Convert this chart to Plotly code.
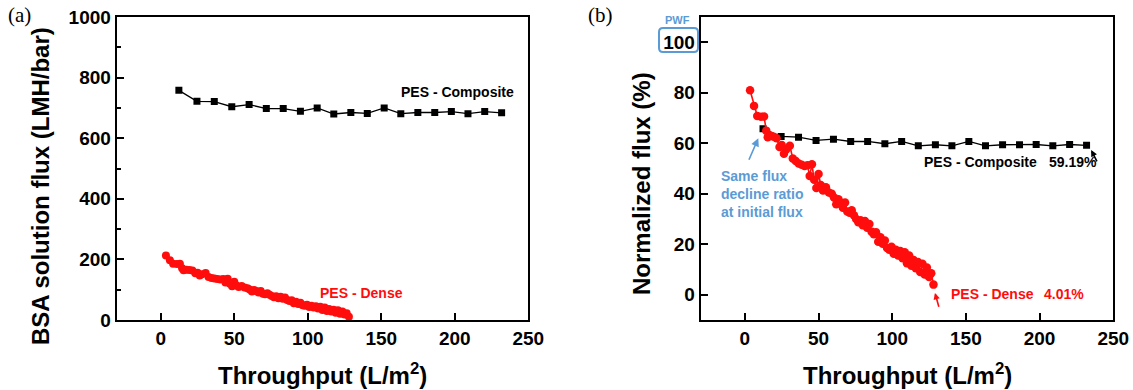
import plotly.graph_objects as go

# ---------------- data ----------------
throughput_comp = [12.3, 24.6, 36.4, 48.3, 60.1, 71.8, 83.3, 95.0, 106.4, 117.7,
                   129.3, 140.5, 152.0, 163.3, 174.9, 186.4, 197.7, 209.0, 220.4, 231.9]
flux_comp = [758, 722, 721, 704, 711, 698, 698, 689, 700, 680,
             685, 682, 700, 681, 685, 685, 688, 681, 688, 684]
norm_comp = [65.7, 62.7, 62.4, 61.1, 61.6, 60.7, 60.7, 59.8, 60.7, 59.0,
             59.4, 59.0, 60.7, 59.0, 59.4, 59.4, 59.5, 59.0, 59.5, 59.19]

throughput_dense = [3.5, 6.2, 8.4, 11.0, 13.0, 14.5, 15.5, 17.5, 19.5, 21.5,
                    23.5, 25.0, 26.5, 28.0, 30.5, 32.5, 34.5, 36.5, 38.5, 40.5,
                    42.5, 44.0, 45.5, 47.0, 48.5, 50.0, 51.5, 53.0, 55.0, 57.0,
                    59.0, 60.5, 62.0, 63.5, 65.0, 66.5, 68.0, 69.5, 71.0, 72.5,
                    74.0, 75.5, 77.0, 78.5, 80.0, 81.5, 83.0, 84.5, 86.0, 87.5,
                    89.0, 90.5, 92.0, 93.5, 95.0, 96.5, 98.0, 99.5, 101.0, 102.5,
                    104.0, 105.5, 107.0, 108.5, 110.0, 111.5, 113.0, 114.5, 116.0, 117.5,
                    119.0, 120.5, 122.0, 123.5, 125.0, 126.5, 128.0]
flux_dense = [213, 197, 186, 185, 186, 171, 164, 166, 165, 163,
              154, 156, 147, 151, 155, 142, 139, 137, 135, 134,
              135, 124, 136, 120, 111, 126, 114, 109, 112, 107,
              105, 101, 94, 99, 96, 91, 96, 87, 85, 88,
              83, 79, 75, 78, 72, 77, 70, 74, 66, 63,
              65, 55, 60, 53, 57, 49, 47, 50, 43, 47,
              41, 45, 38, 44, 33, 41, 30, 36, 28, 34,
              24, 32, 21, 28, 18, 22, 11]
norm_dense = [81.0, 74.8, 70.8, 70.5, 70.6, 65.0, 62.4, 63.0, 62.6, 62.0,
              58.5, 59.3, 55.8, 57.5, 59.0, 54.0, 53.0, 52.0, 51.5, 51.0,
              51.3, 47.0, 51.7, 45.5, 42.3, 47.8, 43.5, 41.3, 42.6, 40.5,
              40.0, 38.5, 35.8, 37.8, 36.5, 34.5, 36.5, 33.0, 32.5, 33.5,
              31.5, 30.0, 28.7, 29.5, 27.5, 29.2, 26.5, 28.0, 25.0, 24.0,
              24.8, 21.0, 22.8, 20.2, 21.5, 18.5, 17.8, 19.0, 16.2, 17.8,
              15.5, 17.3, 14.5, 16.8, 12.5, 15.5, 11.5, 13.8, 10.5, 13.0,
              9.0, 12.3, 8.0, 10.8, 7.0, 8.5, 4.01]

x_ticks = [0, 50, 100, 150, 200, 250]
ya_ticks = [0, 200, 400, 600, 800, 1000]
ya_minor = [100, 300, 500, 700, 900]
yb_ticks = [0, 20, 40, 60, 80, 100]

W, H = 1133, 390
FONT = "Liberation Sans, Arial, sans-serif"
RED = "#ff0d0d"
BLUE = "#5b9bd5"


def px(xp):
    return xp / W


def py(yp):
    return 1 - yp / H


def bold(vals):
    return [f"<b>{v}</b>" for v in vals]


fig = go.Figure()

# panel (a)
fig.add_trace(go.Scatter(x=throughput_comp, y=flux_comp, mode="lines+markers",
                         line=dict(color="black", width=1.3),
                         marker=dict(symbol="square", size=7, color="black"),
                         xaxis="x", yaxis="y", showlegend=False))
fig.add_trace(go.Scatter(x=throughput_dense, y=flux_dense, mode="lines+markers",
                         line=dict(color=RED, width=1.3),
                         marker=dict(symbol="circle", size=8, color=RED),
                         xaxis="x", yaxis="y", showlegend=False))
# panel (b)
fig.add_trace(go.Scatter(x=throughput_comp, y=norm_comp, mode="lines+markers",
                         line=dict(color="black", width=1.3),
                         marker=dict(symbol="square", size=7, color="black"),
                         xaxis="x2", yaxis="y2", showlegend=False))
fig.add_trace(go.Scatter(x=throughput_dense, y=norm_dense, mode="lines+markers",
                         line=dict(color=RED, width=1.6),
                         marker=dict(symbol="circle", size=8.5, color=RED),
                         xaxis="x2", yaxis="y2", showlegend=False))

axis_common = dict(showline=True, linewidth=2, linecolor="black", mirror=True,
                   showgrid=False, zeroline=False, ticks="inside", ticklen=7,
                   tickwidth=2, tickcolor="black", automargin=False,
                   tickfont=dict(family=FONT, size=19, color="black", weight="bold"))

ydom = [py(320), py(17)]
fig.update_layout(
    template="none",
    width=W, height=H,
    margin=dict(l=0, r=0, t=0, b=0, pad=0),
    paper_bgcolor="white", plot_bgcolor="white",
    xaxis=dict(domain=[px(116.7), px(528.3)], range=[-30, 250.05], anchor="y",
               tickvals=x_ticks, ticktext=bold(x_ticks), **axis_common),
    yaxis=dict(domain=ydom, range=[0, 1000.2], anchor="x",
               tickvals=ya_ticks, ticktext=bold(ya_ticks),
               minor=dict(tickvals=ya_minor, ticks="inside",
                          ticklen=4, tickwidth=2, tickcolor="black"),
               **axis_common),
    xaxis2=dict(domain=[px(700.7), px(1113.3)], range=[-30, 250.05], anchor="y2",
                tickvals=x_ticks, ticktext=bold(x_ticks), **axis_common),
    yaxis2=dict(domain=ydom, range=[-10, 110], anchor="x2",
                tickvals=yb_ticks, ticktext=bold(yb_ticks), **axis_common),
)

ann = []


def add_text(text, x, y, xref="paper", yref="paper", font=None, xanchor="center",
             yanchor="middle", **kw):
    ann.append(dict(text=text, x=x, y=y, xref=xref, yref=yref, showarrow=False,
                    xanchor=xanchor, yanchor=yanchor, font=font, **kw))


serif = dict(family="Liberation Serif, Times New Roman, serif", size=21, color="black")
add_text("(a)", px(19), py(15), font=serif)
add_text("(b)", px(600), py(15), font=serif)

title_font = dict(family=FONT, size=24, color="black", weight="bold")
add_text("Throughput (L/m<sup>2</sup>)", px(322.5), py(374), font=title_font)
add_text("Throughput (L/m<sup>2</sup>)", px(907), py(374), font=title_font)
add_text("BSA solution flux (LMH/bar)", px(40), py(186), font=title_font, textangle=-90)
add_text("Normalized flux (%)", px(641), py(184), font=title_font, textangle=-90)

lab_k = dict(family=FONT, size=14, color="black", weight="bold")
lab_r = dict(family=FONT, size=14, color=RED, weight="bold")
lab_b = dict(family=FONT, size=14, color=BLUE, weight="bold")

# panel (a) labels
add_text("PES - Composite", 202, 751, "x", "y", lab_k)
add_text("PES - Dense", 136.5, 89, "x", "y", lab_r)
# panel (b) labels
add_text("PES - Composite", 120, 52.4, "x2", "y2", lab_k, xanchor="left")
add_text("59.19%", 204.8, 52.4, "x2", "y2", lab_k, xanchor="left")
add_text("PES - Dense", 138.7, 0.3, "x2", "y2", lab_r, xanchor="left")
add_text("4.01%", 201.4, 0.3, "x2", "y2", lab_r, xanchor="left")
add_text("Same flux<br>decline ratio<br>at initial flux", -17.4, 39.8, "x2", "y2",
         lab_b, xanchor="left", align="left")
add_text("PWF", px(677), py(20),
         font=dict(family=FONT, size=11, color=BLUE, weight="bold"))

# arrows
ann.append(dict(text="", x=9.1, y=62.0, xref="x2", yref="y2", showarrow=True,
                ax=-10, ay=23, arrowhead=2, arrowsize=1, arrowwidth=1.6,
                arrowcolor=BLUE))
ann.append(dict(text="", x=235, y=57.3, xref="x2", yref="y2", showarrow=True,
                ax=6.6, ay=12.7, arrowhead=2, arrowsize=0.8, arrowwidth=1.6,
                arrowcolor="black"))
ann.append(dict(text="", x=129, y=0.7, xref="x2", yref="y2", showarrow=True,
                ax=4.3, ay=15.3, arrowhead=2, arrowsize=0.8, arrowwidth=1.6,
                arrowcolor=RED))
fig.update_layout(annotations=ann)

# rounded box around the PWF "100" tick label
x0, x1, y0, y1 = px(659), px(698), py(52), py(28)
rx, ry = 4 / W, 4 / H
path = (f"M {x0+rx},{y1} L {x1-rx},{y1} Q {x1},{y1} {x1},{y1-ry} "
        f"L {x1},{y0+ry} Q {x1},{y0} {x1-rx},{y0} L {x0+rx},{y0} "
        f"Q {x0},{y0} {x0},{y0+ry} L {x0},{y1-ry} Q {x0},{y1} {x0+rx},{y1} Z")
fig.add_shape(type="path", path=path, xref="paper", yref="paper",
              line=dict(color=BLUE, width=2), fillcolor="rgba(0,0,0,0)")

fig.write_html("out.html", config={"displayModeBar": False},
               post_script="document.body.style.margin='0px';"
                           "document.documentElement.style.overflow='hidden';")
